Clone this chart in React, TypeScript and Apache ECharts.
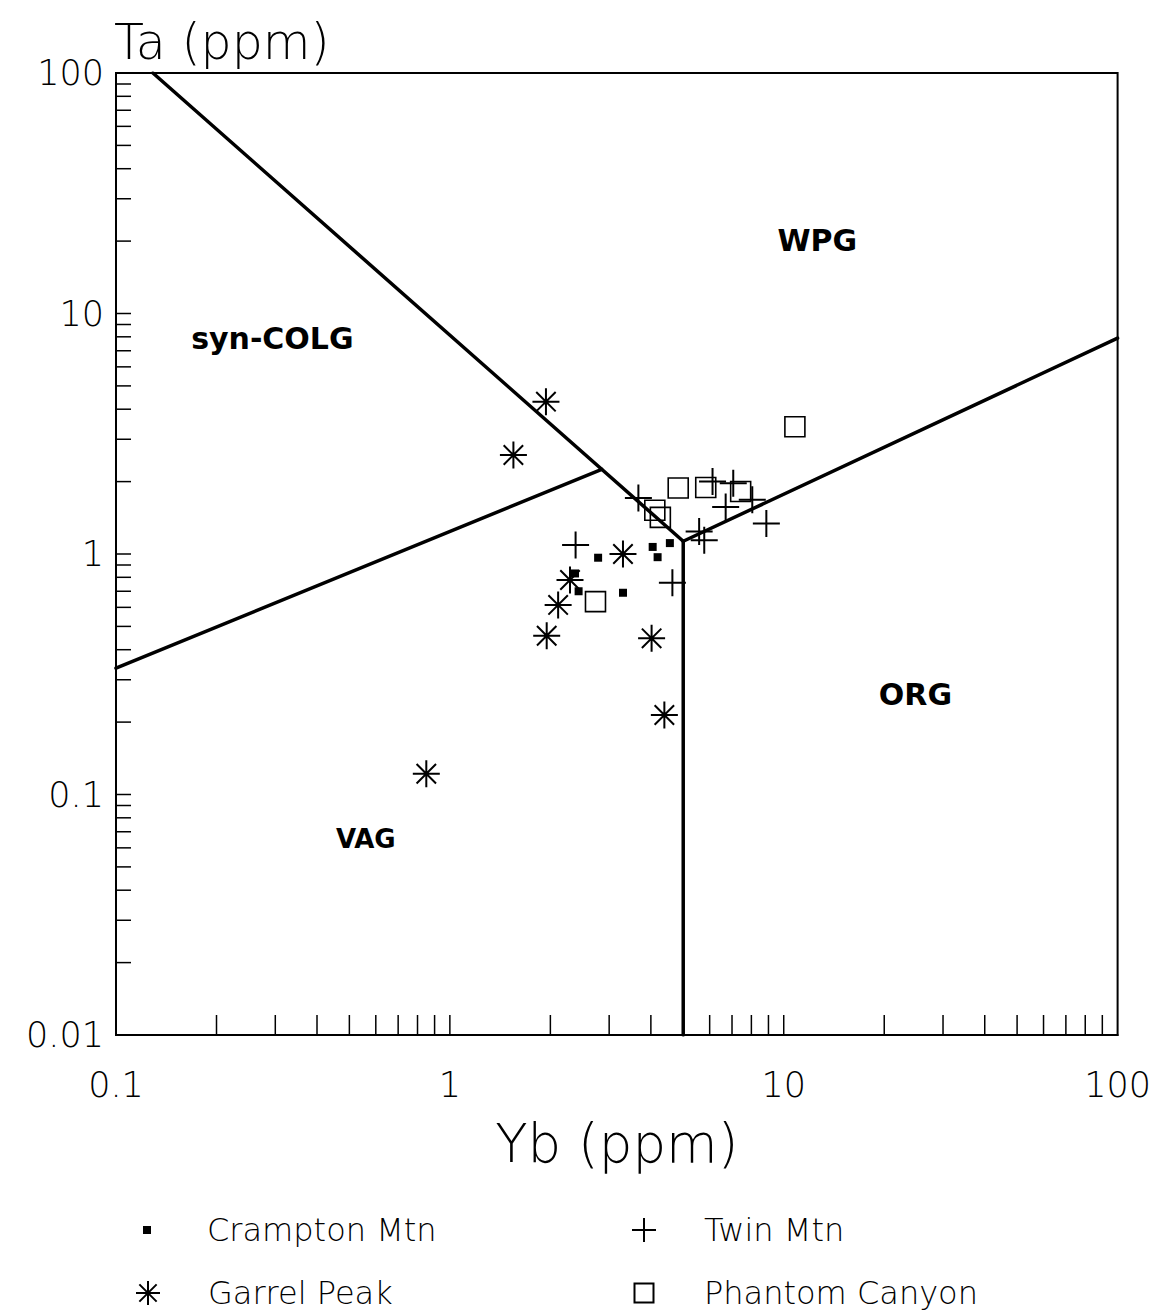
import React, { useEffect, useRef } from "react";
import * as echarts from "echarts";

// ---- axis ticks & labels ----
const xTickValues = [0.1, 1, 10, 100];
const xTickLabels = ["0.1", "1", "10", "100"];
const yTickValues = [0.01, 0.1, 1, 10, 100];
const yTickLabels = ["0.01", "0.1", "1", "10", "100"];
const xMinorTicks = [0.2, 0.3, 0.4, 0.5, 0.6, 0.7, 0.8, 0.9, 1, 2, 3, 4, 5, 6, 7, 8, 9, 10, 20, 30, 40, 50, 60, 70, 80, 90];
const yMinorTicks = [0.02, 0.03, 0.04, 0.05, 0.06, 0.07, 0.08, 0.09, 0.1, 0.2, 0.3, 0.4, 0.5, 0.6, 0.7, 0.8, 0.9, 1, 2, 3, 4, 5, 6, 7, 8, 9, 10, 20, 30, 40, 50, 60, 70, 80, 90];

// ---- samples (Yb ppm, Ta ppm) ----
const cramptonYb = [2.78, 4.05, 4.19, 4.56, 2.37, 2.43, 3.3];
const cramptonTa = [0.965, 1.07, 0.97, 1.11, 0.83, 0.7, 0.69];
const garrelYb = [1.94, 1.55, 3.3, 2.29, 2.11, 1.95, 4.02, 4.39, 0.85];
const garrelTa = [4.3, 2.58, 1.0, 0.78, 0.614, 0.457, 0.446, 0.214, 0.122];
const twinYb = [2.38, 3.67, 4.64, 5.58, 5.78, 6.12, 7.06, 6.7, 8.05, 8.87];
const twinTa = [1.09, 1.71, 0.76, 1.24, 1.14, 2.0, 1.97, 1.57, 1.68, 1.34];
const phantomYb = [4.83, 5.84, 4.11, 4.27, 2.73, 10.8, 7.43];
const phantomTa = [1.88, 1.89, 1.52, 1.42, 0.634, 3.38, 1.82];

// ---- field boundaries ----
const colgWpgYb = [0.129, 5];
const colgWpgTa = [100, 1.13];
const vagColgYb = [0.1, 2.85];
const vagColgTa = [0.335, 2.25];
const wpgOrgYb = [5, 100];
const wpgOrgTa = [1.13, 7.9];
const vagOrgYb = [5, 5];
const vagOrgTa = [1.13, 0.01];

// ---- field names ----
const fieldNames = ["WPG", "syn-COLG", "ORG", "VAG"];
const fieldYb = [12.6, 0.294, 24.8, 0.56];
const fieldTa = [20.2, 7.9, 0.26, 0.065];
const fieldFontSizes = [30, 30, 30, 26];

const seriesNames = ["Crampton Mtn", "Garrel Peak", "Twin Mtn", "Phantom Canyon"];

const THIN = "'DejaVu Sans', sans-serif";
const PLUS = "path://M0,-1L0,1M-1,0L1,0";
const STAR = "path://M0,-1L0,1M-1,0L1,0M-0.72,-0.72L0.72,0.72M-0.72,0.72L0.72,-0.72";
const SQUARE = "path://M0,0L1,0L1,1L0,1Z";

const zip = (a: number[], b: number[]) => a.map((v, i) => [v, b[i]]);

function labelFor(values: number[], labels: string[]) {
  return (v: number) => {
    let best = 0;
    let bd = Infinity;
    values.forEach((t, i) => {
      const d = Math.abs(Math.log10(t) - Math.log10(v));
      if (d < bd) {
        bd = d;
        best = i;
      }
    });
    return bd < 0.01 ? labels[best] : "";
  };
}

export default function App() {
  const ref = useRef<HTMLDivElement>(null);
  useEffect(() => {
    if (!ref.current) return;
    const chart = echarts.init(ref.current, null, { renderer: "svg" });

    const boundary = (name: string, xs: number[], ys: number[]) => ({
      name,
      type: "line",
      data: zip(xs, ys),
      symbol: "none",
      lineStyle: { color: "#000", width: 3.5, cap: "round" },
      silent: true,
      z: 3,
    });

    // icon centre at cx, label starts 60px right of the centre
    const legendBase = (name: string, cx: number, cy: number, size: number) => ({
      data: [{ name, icon: name === seriesNames[0] || name === seriesNames[3] ? SQUARE : undefined }],
      left: cx - 5 - size / 2,
      top: cy - 25,
      itemWidth: 110,
      itemHeight: size,
      symbolKeepAspect: true,
      selectedMode: false,
      inactiveColor: "#000",
      textStyle: { fontFamily: THIN, fontWeight: 200, fontSize: 32, color: "#000", lineHeight: 40 },
    });

    const option: any = {
      animation: false,
      backgroundColor: "#fff",
      grid: { left: 116, right: 32, top: 73, bottom: 279, show: true, borderColor: "#000", borderWidth: 2, backgroundColor: "transparent" },
      xAxis: {
        type: "log",
        logBase: 10,
        min: 0.1,
        max: 100,
        name: "Yb (ppm)",
        nameLocation: "middle",
        nameGap: 82,
        nameTextStyle: { fontFamily: THIN, fontWeight: 200, fontSize: 53, color: "#000" },
        axisLine: { show: true, lineStyle: { color: "#000", width: 2 } },
        axisTick: { show: false },
        splitLine: { show: false },
        minorTick: { show: false },
        axisLabel: {
          show: true,
          margin: 32,
          fontFamily: THIN,
          fontWeight: 200,
          fontSize: 35,
          color: "#000",
          showMinLabel: true,
          showMaxLabel: true,
          formatter: labelFor(xTickValues, xTickLabels),
        },
      },
      yAxis: {
        type: "log",
        logBase: 10,
        min: 0.01,
        max: 100,
        name: "Ta (ppm)",
        nameLocation: "end",
        nameGap: 6,
        nameTextStyle: { fontFamily: THIN, fontWeight: 200, fontSize: 49, color: "#000", align: "left", verticalAlign: "bottom", padding: [0, 0, 0, -2] },
        axisLine: { show: true, lineStyle: { color: "#000", width: 2 } },
        axisTick: { show: false },
        splitLine: { show: false },
        minorTick: { show: false },
        axisLabel: {
          show: true,
          margin: 12,
          fontFamily: THIN,
          fontWeight: 200,
          fontSize: 35,
          color: "#000",
          showMinLabel: true,
          showMaxLabel: true,
          formatter: labelFor(yTickValues, yTickLabels),
        },
      },
      legend: [
        legendBase(seriesNames[0], 147, 1230, 8),
        legendBase(seriesNames[2], 643, 1230, 24),
        legendBase(seriesNames[1], 147, 1293, 24),
        legendBase(seriesNames[3], 643, 1293, 19),
      ],
      series: [
        {
          name: "xticks",
          type: "custom",
          data: xMinorTicks.map((v) => [v, 0.01]),
          silent: true,
          renderItem: (params: any, api: any) => {
            const p = api.coord([api.value(0), api.value(1)]);
            return { type: "line", shape: { x1: p[0], y1: p[1], x2: p[0], y2: p[1] - 20 }, style: { stroke: "#000", lineWidth: 1.5 } };
          },
        },
        {
          name: "yticks",
          type: "custom",
          data: yMinorTicks.map((v) => [0.1, v]),
          silent: true,
          renderItem: (params: any, api: any) => {
            const p = api.coord([api.value(0), api.value(1)]);
            return { type: "line", shape: { x1: p[0], y1: p[1], x2: p[0] + 15, y2: p[1] }, style: { stroke: "#000", lineWidth: 1.5 } };
          },
        },
        boundary("syn-COLG/WPG", colgWpgYb, colgWpgTa),
        boundary("VAG/syn-COLG", vagColgYb, vagColgTa),
        boundary("WPG/ORG", wpgOrgYb, wpgOrgTa),
        boundary("VAG/ORG", vagOrgYb, vagOrgTa),
        {
          name: "fields",
          type: "scatter",
          silent: true,
          symbolSize: 0,
          itemStyle: { opacity: 1 },
          data: fieldNames.map((n, i) => ({
            value: [fieldYb[i], fieldTa[i]],
            label: {
              show: true,
              position: "inside",
              formatter: n,
              fontFamily: "'DejaVu Sans', sans-serif",
              fontWeight: "bold",
              fontSize: fieldFontSizes[i],
              color: "#000",
            },
          })),
        },
        {
          name: seriesNames[0],
          type: "scatter",
          symbol: "rect",
          symbolSize: 8,
          itemStyle: { color: "#000", opacity: 1 },
          data: zip(cramptonYb, cramptonTa),
          z: 4,
        },
        {
          name: seriesNames[1],
          type: "scatter",
          symbol: STAR,
          symbolSize: 27,
          itemStyle: { color: "transparent", borderColor: "#000", borderWidth: 2, opacity: 1 },
          data: zip(garrelYb, garrelTa),
          z: 4,
        },
        {
          name: seriesNames[2],
          type: "scatter",
          symbol: PLUS,
          symbolSize: 27,
          itemStyle: { color: "transparent", borderColor: "#000", borderWidth: 2, opacity: 1 },
          data: zip(twinYb, twinTa),
          z: 4,
        },
        {
          name: seriesNames[3],
          type: "scatter",
          symbol: "rect",
          symbolSize: 20,
          itemStyle: { color: "transparent", borderColor: "#000", borderWidth: 1.6, opacity: 1 },
          data: zip(phantomYb, phantomTa),
          z: 4,
        },
      ],
    };
    chart.setOption(option);
    return () => chart.dispose();
  }, []);
  return <div ref={ref} style={{ position: "absolute", left: 0, top: 0, width: 1154, height: 1314 }} />;
}
